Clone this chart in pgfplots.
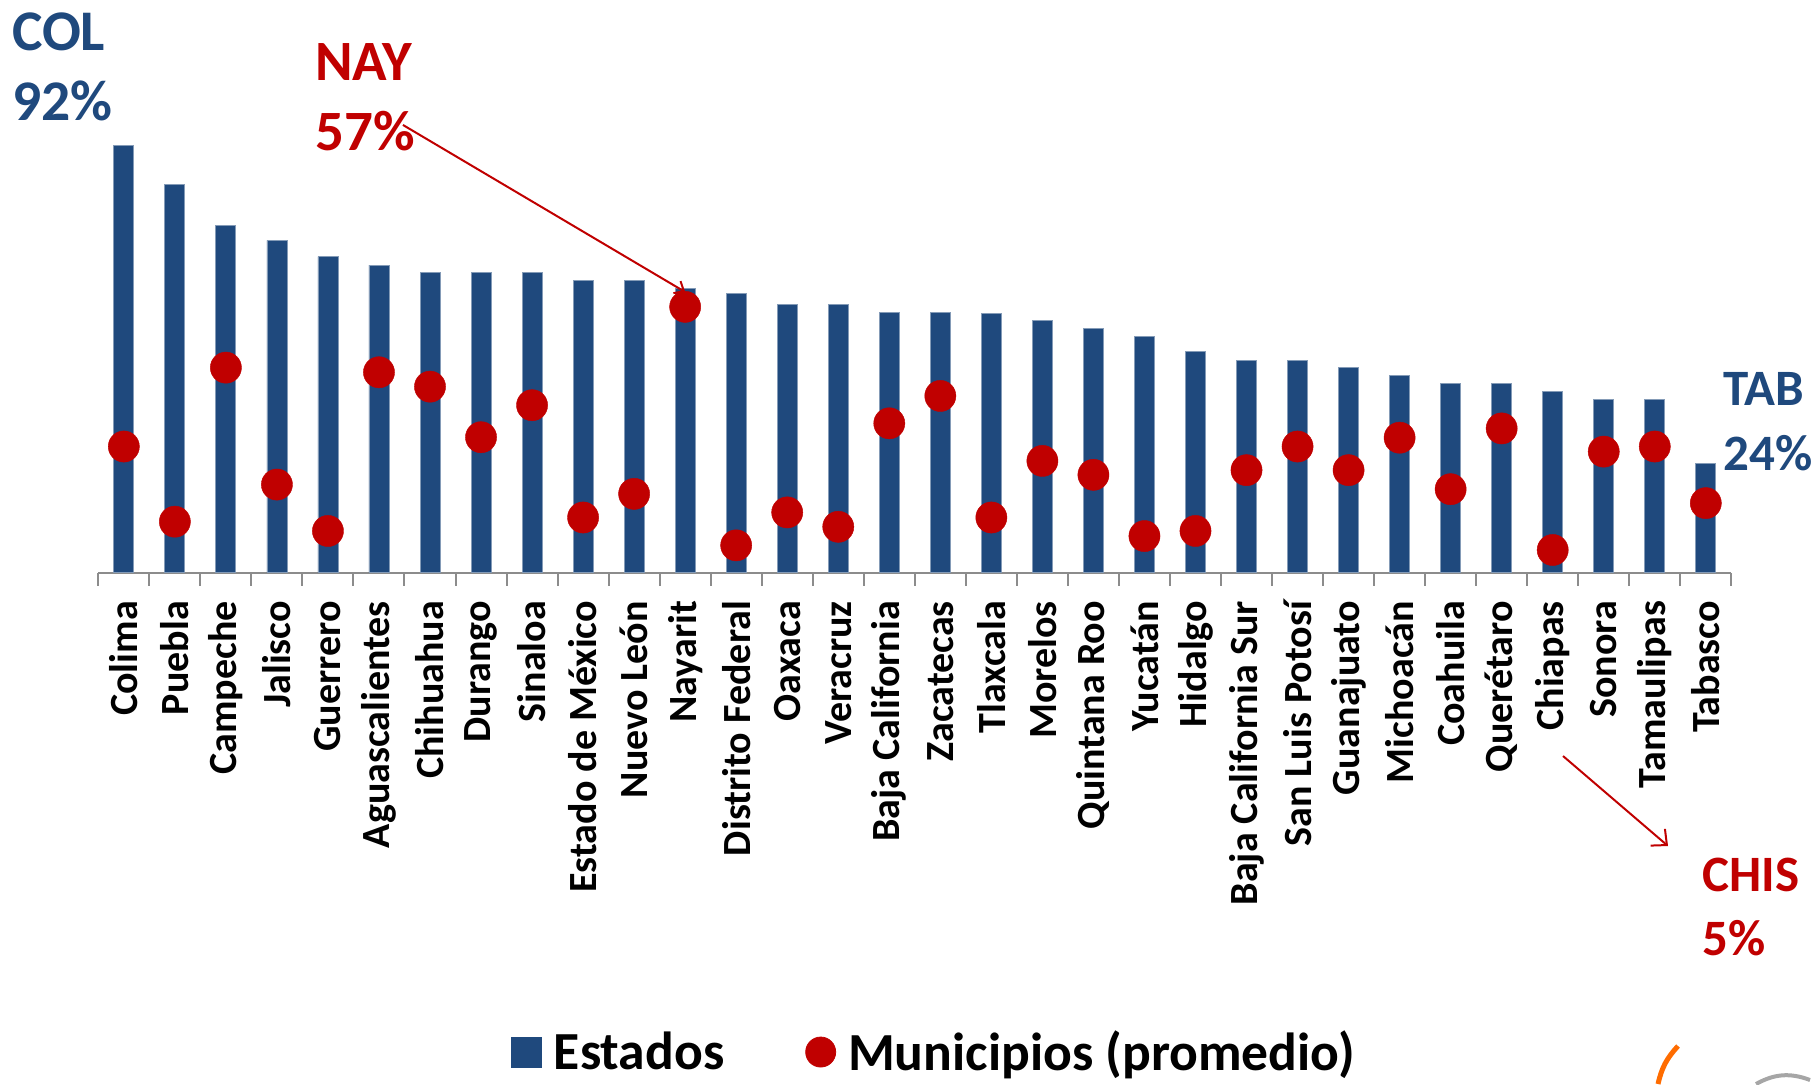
\documentclass[border=0pt]{standalone}
\usepackage{fontspec}
\setmainfont{Carlito}
\usepackage{pgfplots}
\usepackage{pgfplotstable}
\pgfplotsset{compat=1.18}
\usetikzlibrary{arrows.meta}
\definecolor{barblue}{HTML}{1F497D}
\definecolor{dotred}{HTML}{C00000}
\definecolor{axgray}{HTML}{8C8C8C}

\pgfplotstableread{
idx bar dot
0  92.0 27.2
1  83.6 11.0
2  74.9 44.2
3  71.6 19.0
4  68.1 9.0
5  66.3 43.2
6  64.7 40.1
7  64.7 29.2
8  64.7 36.1
9  62.9 11.9
10 62.9 17.0
11 61.3 57.3
12 60.2 5.9
13 57.8 13.0
14 57.8 9.9
15 56.1 32.2
16 56.1 38.1
17 55.9 11.9
18 54.4 24.1
19 52.7 21.1
20 50.9 7.9
21 47.6 9.0
22 45.8 22.1
23 45.8 27.2
24 44.2 22.1
25 42.5 29.1
26 40.8 18.0
27 40.8 31.1
28 39.1 4.9
29 37.4 26.1
30 37.4 27.2
31 23.6 15.0
}\datatable

\begin{document}
\begin{tikzpicture}
\useasboundingbox (0,0) rectangle (909.5pt,-542pt);
\begin{axis}[
  at={(49.15pt,-286.35pt)}, anchor=south west,
  scale only axis, width=816.5pt, height=232pt,
  xmin=-0.5, xmax=31.5, ymin=0, ymax=100,
  enlargelimits=false,
  clip=false,
  axis x line*=bottom, axis y line=none,
  x axis line style={axgray, line width=1.1pt, -},
  ytick=\empty,
  xtick={0,...,31},
  xticklabels={Colima,Puebla,Campeche,Jalisco,Guerrero,Aguascalientes,Chihuahua,Durango,Sinaloa,Estado de México,Nuevo León,Nayarit,Distrito Federal,Oaxaca,Veracruz,Baja California,Zacatecas,Tlaxcala,Morelos,Quintana Roo,Yucatán,Hidalgo,Baja California Sur,San Luis Potosí,Guanajuato,Michoacán,Coahuila,Querétaro,Chiapas,Sonora,Tamaulipas,Tabasco},
  major tick length=0pt,
  minor xtick={-0.5,0.5,...,31.5},
  minor tick length=6.5pt,
  tick align=outside,
  minor tick style={axgray, line width=1pt},
  xticklabel style={yshift=-14pt, rotate=90, anchor=east, inner sep=0pt, text=black, font=\fontsize{20}{24}\selectfont\bfseries},
  legend style={at={(0.5125,-1.033)}, anchor=center, draw=none, fill=none, legend columns=2,
    font=\fontsize{26.8}{31}\selectfont\bfseries,
    /tikz/every even column/.append style={column sep=38.5pt}},
]
\addplot[ybar, bar width=10pt, fill=barblue, draw=barblue!55!white, line width=0.4pt,
  legend image code/.code={\fill[barblue] (0pt,-7.5pt) rectangle (15pt,7.5pt); \path (19pt,0pt);}]
  table[x=idx, y=bar] {\datatable};
\addlegendentry{Estados}
\draw[dotred, line width=1pt, -{Straight Barb[length=4pt,width=7pt]}] (axis cs:5.47,96.5) -- (axis cs:11,60.5);
\addplot[only marks, mark=*, mark size=7.8pt, mark options={fill=dotred, draw=dotred, line width=0.2pt},
  legend image code/.code={\fill[dotred] (7.5pt,0pt) circle[radius=7.5pt]; \path (19pt,0pt);}]
  table[x=idx, y=dot] {\datatable};
\addlegendentry{Municipios (promedio)}
\end{axis}
% annotations
\node[anchor=base west, inner sep=0pt, text=barblue, font=\fontsize{28.75}{34}\selectfont\bfseries] at (5.85pt,-25pt) {COL};
\node[anchor=base west, inner sep=0pt, text=barblue, font=\fontsize{28.75}{34}\selectfont\bfseries] at (5.85pt,-60.35pt) {92\%};
\node[anchor=base west, inner sep=0pt, text=dotred, font=\fontsize{28.5}{34}\selectfont\bfseries] at (157.5pt,-40pt) {NAY};
\node[anchor=base west, inner sep=0pt, text=dotred, font=\fontsize{28.5}{34}\selectfont\bfseries] at (157.5pt,-75pt) {57\%};
\node[anchor=base west, inner sep=0pt, text=barblue, font=\fontsize{25.5}{30}\selectfont\bfseries] at (861.5pt,-202.5pt) {TAB};
\node[anchor=base west, inner sep=0pt, text=barblue, font=\fontsize{25.5}{30}\selectfont\bfseries] at (861.5pt,-235pt) {24\%};
\node[anchor=base west, inner sep=0pt, text=dotred, font=\fontsize{25.5}{30}\selectfont\bfseries] at (851pt,-445.5pt) {CHIS};
\node[anchor=base west, inner sep=0pt, text=dotred, font=\fontsize{25.5}{30}\selectfont\bfseries] at (851pt,-477.5pt) {5\%};
\draw[dotred, line width=1pt, -{Straight Barb[length=6pt,width=11pt]}] (781.5pt,-378pt) -- (834pt,-423pt);
% partial logo at the bottom edge
\draw[orange!85!red, line width=2.5pt] (839pt,-523pt) to[bend right=15] (829pt,-542pt);
\draw[gray!70, line width=2pt] (878pt,-542pt) to[bend left=25] (905pt,-540pt);
\end{tikzpicture}
\end{document}
